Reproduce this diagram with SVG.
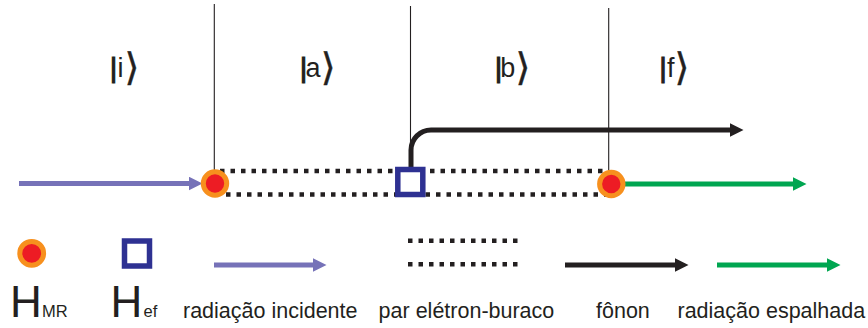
<svg xmlns="http://www.w3.org/2000/svg" width="868" height="328" viewBox="0 0 868 328">
<style>
.state{font-family:"Liberation Sans","DejaVu Sans",sans-serif;font-size:27px;fill:#231F20}
.bar{stroke:#231F20;stroke-width:1.2}
.br{font-family:"DejaVu Sans",sans-serif;font-size:38px;stroke:#231F20;stroke-width:0.4}
.lbl{font-family:"Liberation Sans",Arial,sans-serif;font-size:21.5px;fill:#231F20}
.bigH{font-family:"Liberation Sans",Arial,sans-serif;font-size:44px;fill:#231F20}
.sub{font-family:"Liberation Sans",Arial,sans-serif;font-size:16.5px;fill:#231F20}
.vline{stroke:#231F20;stroke-width:1.1;fill:none}
.dots{stroke:#231F20;stroke-width:4.5;stroke-dasharray:4.5 6;fill:none}
.arr{stroke-width:5;fill:none}
.hmr{fill:#ED1C24;stroke:#F7901E;stroke-width:5}
.hef{fill:#fff;stroke:#2E3192;stroke-width:5.5}
</style>
<defs>
<marker id="ap" markerUnits="userSpaceOnUse" markerWidth="14" markerHeight="14" refX="0" refY="6.75" orient="auto"><path d="M0,0 L13.5,6.75 L0,13.5z" fill="#7672B8"/></marker>
<marker id="ak" markerUnits="userSpaceOnUse" markerWidth="14" markerHeight="14" refX="0" refY="6.75" orient="auto"><path d="M0,0 L13.5,6.75 L0,13.5z" fill="#231F20"/></marker>
<marker id="ag" markerUnits="userSpaceOnUse" markerWidth="14" markerHeight="14" refX="0" refY="6.75" orient="auto"><path d="M0,0 L13.5,6.75 L0,13.5z" fill="#00A651"/></marker>
</defs>
<rect width="868" height="328" fill="#fff"/>
<g id="states">
<text class="state" y="77"><tspan class="bar" x="110">|</tspan><tspan x="117.5">i</tspan><tspan class="br" x="124.5" y="80">⟩</tspan></text>
<text class="state" y="77"><tspan class="bar" x="300">|</tspan><tspan x="305.5">a</tspan><tspan class="br" x="320.7" y="80">⟩</tspan></text>
<text class="state" y="77"><tspan class="bar" x="495">|</tspan><tspan x="500.3">b</tspan><tspan class="br" x="515.5" y="80">⟩</tspan></text>
<text class="state" y="77"><tspan class="bar" x="659.5">|</tspan><tspan x="667">f</tspan><tspan class="br" x="674.5" y="80">⟩</tspan></text>
</g>
<g id="connectors">
<line class="vline" x1="214.3" y1="4" x2="214.3" y2="172"/>
<line class="vline" x1="410.5" y1="6" x2="410.5" y2="150"/>
<line class="vline" x1="608.7" y1="8" x2="608.7" y2="172" stroke="#555"/>
<line class="dots" x1="220" y1="171" x2="606" y2="171"/>
<line class="dots" x1="226" y1="194.5" x2="606" y2="194.5"/>
<line class="arr" stroke="#7672B8" x1="19" y1="183.5" x2="189" y2="183.5" marker-end="url(#ap)"/>
<line class="arr" stroke="#00A651" x1="612" y1="184" x2="793" y2="184" marker-end="url(#ag)"/>
<path class="arr" stroke="#231F20" d="M411,168 V150 A20,20 0 0 1 431,130 H730" marker-end="url(#ak)"/>
</g>
<g id="node-HMR-i"><circle class="hmr" cx="215" cy="183.5" r="11.7"/></g>
<g id="node-Hef"><rect class="hef" x="397.8" y="169.5" width="25" height="25"/></g>
<g id="node-HMR-f"><circle class="hmr" cx="611.3" cy="184" r="11.7"/></g>
<g id="legend">
<circle class="hmr" cx="31.7" cy="253.3" r="11.9"/>
<rect class="hef" x="124.5" y="241" width="25" height="25"/>
<line class="arr" stroke="#7672B8" x1="214" y1="265" x2="313" y2="265" marker-end="url(#ap)"/>
<line class="dots" x1="408" y1="240.7" x2="521" y2="240.7"/>
<line class="dots" x1="408" y1="264.3" x2="521" y2="264.3"/>
<line class="arr" stroke="#231F20" x1="565" y1="265" x2="675" y2="265" marker-end="url(#ak)"/>
<line class="arr" stroke="#00A651" x1="717" y1="265" x2="827" y2="265" marker-end="url(#ag)"/>
<text x="10" y="316.7"><tspan class="bigH">H</tspan><tspan class="sub" x="42" y="316.7">MR</tspan></text>
<text x="110.5" y="316.7"><tspan class="bigH">H</tspan><tspan class="sub" x="143.5" y="316.7">ef</tspan></text>
<text class="lbl" x="183" y="318">radiação incidente</text>
<text class="lbl" x="378.6" y="318">par elétron-buraco</text>
<text class="lbl" x="596" y="318">fônon</text>
<text class="lbl" x="677.5" y="318">radiação espalhada</text>
</g>
</svg>
